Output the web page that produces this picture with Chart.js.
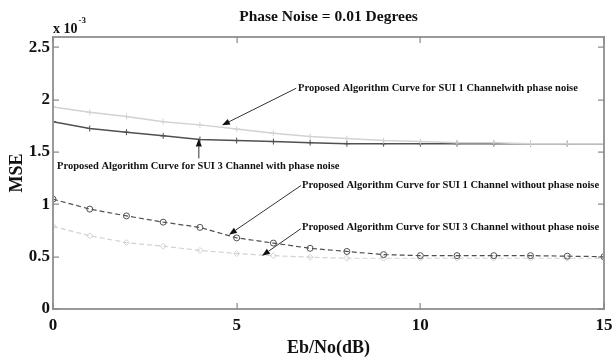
<!DOCTYPE html>
<html>
<head>
<meta charset="utf-8">
<script src="https://cdn.jsdelivr.net/npm/chart.js@4.4.1/dist/chart.umd.min.js"></script>
<style>
  html, body { margin: 0; padding: 0; background: #fff; }
  #box { width: 612px; height: 358px; }
</style>
</head>
<body>
<div id="box"><canvas id="grafico"></canvas></div>
<script>
// Eb/No em dB
const ebno = [0, 1, 2, 3, 4, 5, 6, 7, 8, 9, 10, 11, 12, 13, 14, 15];

// MSE (x 10^-3)
const sui1ComRuido = [1.93, 1.88, 1.84, 1.79, 1.76, 1.72, 1.68, 1.65, 1.63, 1.61, 1.60, 1.59, 1.59, 1.58, 1.58, 1.58];
const sui3ComRuido = [1.79, 1.725, 1.69, 1.655, 1.62, 1.61, 1.60, 1.59, 1.58, 1.58, 1.58, 1.58, 1.58, 1.58, 1.58, 1.58];
const sui1SemRuido = [1.05, 0.955, 0.89, 0.83, 0.78, 0.68, 0.63, 0.58, 0.55, 0.52, 0.51, 0.51, 0.51, 0.51, 0.505, 0.50];
const sui3SemRuido = [0.79, 0.70, 0.635, 0.60, 0.56, 0.53, 0.51, 0.495, 0.485, 0.485, 0.485, 0.485, 0.485, 0.485, 0.485, 0.485];

const xTicks = [0, 5, 10, 15];
const yTicks = [0, 0.5, 1, 1.5, 2, 2.5];

const titulo = "Phase Noise = 0.01 Degrees";

// anotações com setas (coordenadas em unidades dos eixos)
const anotacoes = [
    { texto: "Proposed Algorithm Curve for SUI 1 Channelwith phase noise", x: 6.67, y: 2.11, de: [6.62, 2.11], para: [4.60, 1.756] },
    { texto: "Proposed Algorithm Curve for SUI 3 Channel with phase noise", x: 0.11, y: 1.363, de: [3.97, 1.44], para: [3.97, 1.63] },
    { texto: "Proposed Algorithm Curve for SUI 1 Channel without phase noise", x: 6.78, y: 1.18, de: [6.75, 1.18], para: [4.79, 0.71] },
    { texto: "Proposed Algorithm Curve for SUI 3 Channel without phase noise", x: 6.78, y: 0.777, de: [6.75, 0.768], para: [5.69, 0.509] },
];

const SERIF = '"Liberation Serif", "Times New Roman", serif';
const CLARO = "#d2d2d2";
const ESCURO = "#505050";

function seta(ctx, x1, y1, x2, y2) {
    const ang = Math.atan2(y2 - y1, x2 - x1);
    const L = 8, W = 3;
    ctx.beginPath();
    ctx.moveTo(x1, y1);
    ctx.lineTo(x2 - L * Math.cos(ang), y2 - L * Math.sin(ang));
    ctx.stroke();
    ctx.beginPath();
    ctx.moveTo(x2, y2);
    ctx.lineTo(x2 - L * Math.cos(ang) + W * Math.sin(ang), y2 - L * Math.sin(ang) - W * Math.cos(ang));
    ctx.lineTo(x2 - L * Math.cos(ang) - W * Math.sin(ang), y2 - L * Math.sin(ang) + W * Math.cos(ang));
    ctx.closePath();
    ctx.fill();
}

// moldura estilo MATLAB, ticks para dentro, título e textos
const pluginMoldura = {
    id: "moldura",
    afterDraw(chart) {
        const ctx = chart.ctx;
        const a = chart.chartArea;
        const sx = chart.scales.x, sy = chart.scales.y;
        const L = Math.round(a.left), R = Math.round(a.right);
        const T = Math.round(a.top), B = Math.round(a.bottom);
        ctx.save();
        // moldura
        ctx.fillStyle = "#999999";
        ctx.fillRect(L - 1, T - 1, R - L + 2, 2);
        ctx.fillRect(L - 1, B - 1, R - L + 2, 2);
        ctx.fillRect(L - 1, T - 1, 2, B - T + 2);
        ctx.fillRect(R - 1, T - 1, 2, B - T + 2);
        // ticks para dentro
        ctx.fillStyle = "#888888";
        xTicks.forEach((v) => {
            const px = Math.round(sx.getPixelForValue(v));
            ctx.fillRect(px - 0.5, B - 6, 1.2, 6);
            ctx.fillRect(px - 0.5, T, 1.2, 6);
        });
        yTicks.forEach((v) => {
            const py = Math.round(sy.getPixelForValue(v));
            ctx.fillRect(L, py - 0.5, 6, 1.2);
            ctx.fillRect(R - 6, py - 0.5, 6, 1.2);
        });

        // título centrado sobre a área do gráfico
        ctx.fillStyle = "#111";
        ctx.font = "bold 15.5px " + SERIF;
        ctx.textAlign = "center";
        ctx.textBaseline = "middle";
        ctx.fillText(titulo, (a.left + a.right) / 2, 17);

        // x 10^-3
        ctx.textAlign = "left";
        ctx.textBaseline = "alphabetic";
        ctx.font = "bold 14px " + SERIF;
        ctx.fillText("x 10", a.left, 33);
        const w = ctx.measureText("x 10").width;
        ctx.font = "bold 9px " + SERIF;
        ctx.fillText("-3", a.left + w + 1, 23);

        // anotações
        ctx.font = "bold 10.5px " + SERIF;
        ctx.textBaseline = "middle";
        ctx.strokeStyle = "#333";
        ctx.fillStyle = "#111";
        ctx.lineWidth = 1;
        anotacoes.forEach((n) => {
            ctx.fillText(n.texto, sx.getPixelForValue(n.x), sy.getPixelForValue(n.y));
            seta(ctx,
                sx.getPixelForValue(n.de[0]), sy.getPixelForValue(n.de[1]),
                sx.getPixelForValue(n.para[0]), sy.getPixelForValue(n.para[1]));
        });
        ctx.restore();
    },
};

function serie(label, data, cor, estilo, ponto, raio, largura) {
    return {
        label,
        data: ebno.map((x, i) => ({ x, y: data[i] })),
        borderColor: cor,
        backgroundColor: "rgba(0,0,0,0)",
        pointBorderColor: cor,
        pointBackgroundColor: "rgba(0,0,0,0)",
        borderWidth: largura,
        borderDash: estilo,
        pointStyle: ponto,
        pointRadius: raio,
        pointBorderWidth: 1,
        tension: 0,
        fill: false,
    };
}

const fonteTicks = { family: SERIF, size: 17, weight: "bold", lineHeight: 1 };
const fonteTitulo = { family: SERIF, size: 18, weight: "bold", lineHeight: 1 };

new Chart(document.getElementById("grafico"), {
    type: "line",
    data: {
        datasets: [
            serie("SUI 1 com ruído de fase", sui1ComRuido, CLARO, [], "cross", 3, 1.5),
            serie("SUI 3 com ruído de fase", sui3ComRuido, ESCURO, [], "cross", 3, 1.5),
            serie("SUI 1 sem ruído de fase", sui1SemRuido, ESCURO, [5, 3], "circle", 3, 1.2),
            serie("SUI 3 sem ruído de fase", sui3SemRuido, CLARO, [5, 3], "rectRot", 3, 1.2),
        ],
    },
    options: {
        responsive: true,
        maintainAspectRatio: false,
        animation: false,
        layout: { padding: { top: 37, left: 8, right: 0, bottom: 1 } },
        plugins: {
            legend: { display: false },
            tooltip: { enabled: false },
            title: { display: false },
        },
        scales: {
            x: {
                type: "linear",
                min: 0,
                max: 15,
                afterBuildTicks: (s) => { s.ticks = xTicks.map((v) => ({ value: v })); },
                afterFit: (s) => { s.height = 48; s.paddingRight = 8; },
                ticks: { color: "#111", font: fonteTicks, padding: 8, maxRotation: 0, callback: (v) => String(v) },
                grid: { display: false, drawTicks: false },
                border: { display: false },
                title: { display: true, text: "Eb/No(dB)", color: "#111", font: fonteTitulo, padding: { top: 5, bottom: 0 } },
            },
            y: {
                min: 0,
                max: 2.6,
                afterBuildTicks: (s) => { s.ticks = yTicks.map((v) => ({ value: v })); },
                afterFit: (s) => { s.width = 45; },
                ticks: { color: "#111", font: fonteTicks, padding: 3, callback: (v) => String(v) },
                grid: { display: false, drawTicks: false },
                border: { display: false },
                title: { display: true, text: "MSE", color: "#111", font: fonteTitulo, padding: { top: 0, bottom: 3 } },
            },
        },
    },
    plugins: [pluginMoldura],
});
</script>
</body>
</html>
